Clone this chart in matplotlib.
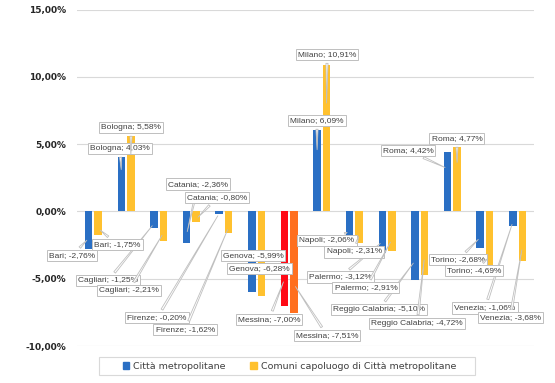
import numpy as np
import matplotlib
matplotlib.use("Agg")
import matplotlib.pyplot as plt
from matplotlib.ticker import FuncFormatter

# Variazione percentuale per città
cities = ["Bari", "Bologna", "Cagliari", "Catania", "Firenze", "Genova", "Messina",
          "Milano", "Napoli", "Palermo", "Reggio Calabria", "Roma", "Torino", "Venezia"]
metro = [-2.76, 4.03, -1.25, -2.36, -0.20, -5.99, -7.00,
         6.09, -2.06, -3.12, -5.10, 4.42, -2.68, -1.06]
comuni = [-1.75, 5.58, -2.21, -0.80, -1.62, -6.28, -7.51,
          10.91, -2.31, -2.91, -4.72, 4.77, -4.69, -3.68]
series_names = ["Città metropolitane", "Comuni capoluogo di Città metropolitane"]
highlight = "Messina"

# label box centres (category units, percent)
metro_lbl = [(-0.65, -3.27), (0.82, 4.68), (0.45, -5.13), (3.21, 2.04), (1.95, -7.91),
             (4.89, -3.27), (5.38, -8.02), (6.85, 6.76), (7.16, -2.15), (7.56, -4.87),
             (8.75, -7.28), (9.64, 4.53), (11.17, -3.60), (12.0, -7.17)]
comuni_lbl = [(0.73, -2.45), (1.154, 6.24), (1.09, -5.87), (3.79, 1.04), (2.81, -8.77),
              (5.08, -4.23), (7.16, -9.21), (7.16, 11.66), (7.99, -3.01), (8.35, -5.68),
              (9.92, -8.32), (11.14, 5.42), (11.66, -4.38), (12.77, -7.91)]

BLUE = "#2A6FC4"
YELLOW = "#FFC12F"
RED = "#FF0A16"
ORANGE = "#FF6F1E"
GRID = "#d9d9d9"


def fmt(v):
    return f"{v:.2f}".replace(".", ",") + "%"


fig = plt.figure(figsize=(5.55, 3.83), dpi=100)
ax = fig.add_axes([0.139, 0.0966, 0.823, 0.878])

x = np.arange(len(cities))
w = 0.23
off = 0.145
c1 = [RED if c == highlight else BLUE for c in cities]
c2 = [ORANGE if c == highlight else YELLOW for c in cities]
ax.bar(x - off, metro, w, color=c1, zorder=2)
ax.bar(x + off, comuni, w, color=c2, zorder=2)

ax.set_xlim(-0.5, len(cities) - 0.5)
ax.set_ylim(-10, 15)
ax.set_yticks([-10, -5, 0, 5, 10, 15])
ax.yaxis.set_major_formatter(FuncFormatter(lambda v, p: fmt(v)))
ax.grid(axis="y", color=GRID, lw=0.8, zorder=0)
ax.set_xticks([])
for s in ax.spines.values():
    s.set_visible(False)
ax.tick_params(axis="y", length=0, pad=8, labelsize=6.5, labelcolor="#262626")
for t in ax.get_yticklabels():
    t.set_fontweight("bold")

box = dict(boxstyle="square,pad=0.25", fc="white", ec="#bfbfbf", lw=0.7)
arrow = dict(arrowstyle="wedge,tail_width=0.25,shrink_factor=0.5",
             fc="white", ec="#bfbfbf", lw=0.6)

for vals, lbls, sgn in [(metro, metro_lbl, -1), (comuni, comuni_lbl, 1)]:
    for i, (city, v) in enumerate(zip(cities, vals)):
        lx, ly = lbls[i]
        ax.annotate(f"{city}; {fmt(v)}", xy=(i + sgn * off, v * 0.72),
                    xytext=(lx, ly), ha="center", va="center",
                    fontsize=6, family="Liberation Sans", color="#404040",
                    bbox=box, arrowprops=arrow, zorder=4)

# legend frame drawn separately to match the wide box
fig.patches.append(plt.Rectangle((99 / 555, 1 - 375 / 383), 376 / 555, 18 / 383,
                                 transform=fig.transFigure, fc="white",
                                 ec="#d9d9d9", lw=0.8, zorder=0))
handles = [plt.Rectangle((0, 0), 1, 1, color=BLUE),
           plt.Rectangle((0, 0), 1, 1, color=YELLOW)]
leg = fig.legend(handles, series_names, loc="center", bbox_to_anchor=(0.5216, 0.044),
                 ncol=2, fontsize=6.8, frameon=False,
                 handlelength=0.7, handleheight=0.7, handletextpad=0.4,
                 columnspacing=2.6)
for t in leg.get_texts():
    t.set_color("#404040")

fig.savefig("out.png", dpi=100)
